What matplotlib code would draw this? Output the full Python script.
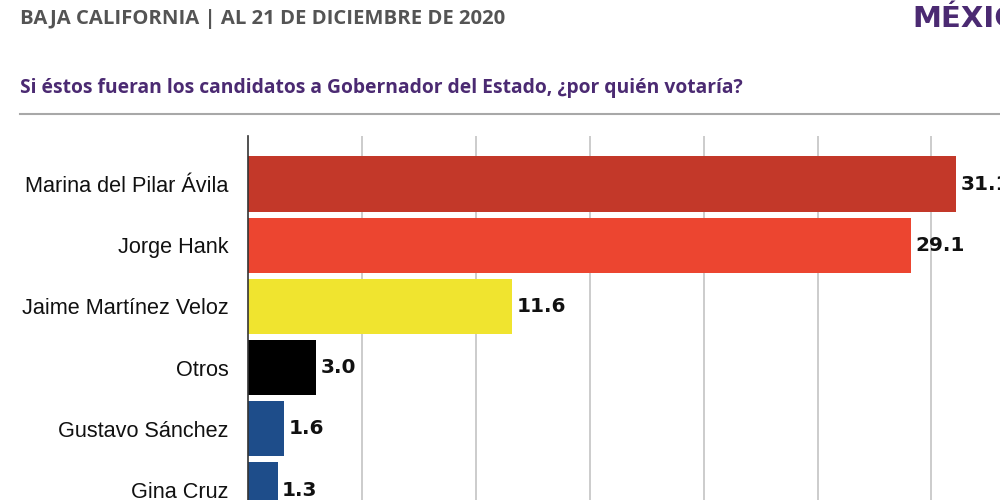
import matplotlib
matplotlib.use("Agg")
import matplotlib.pyplot as plt

categories = ["Marina del Pilar Ávila", "Jorge Hank", "Jaime Martínez Veloz",
              "Otros", "Gustavo Sánchez", "Gina Cruz"]
values = [31.1, 29.1, 11.6, 3.0, 1.6, 1.3]
value_labels = ["31.1", "29.1", "11.6", "3.0", "1.6", "1.3"]
colors = ["#C33829", "#EC4530", "#F0E42F", "#000000", "#1E4D8A", "#1E4D8A"]
title = "BAJA CALIFORNIA | AL 21 DE DICIEMBRE DE 2020"
subtitle = "Si éstos fueran los candidatos a Gobernador del Estado, ¿por quién votaría?"
logo = "MÉXICO"
xticks = [5, 10, 15, 20, 25, 30, 35]

W, H = 1000, 500
fig = plt.figure(figsize=(W / 100, H / 100), dpi=100)
fig.patch.set_facecolor("white")

def fx(px):
    return px / W

def fy(py):
    return 1 - py / H

fig.text(fx(20), fy(19), title, fontsize=14.6, fontweight="bold", color="#545454",
         family="Open Sans", va="center", ha="left")
fig.text(fx(20), fy(88), subtitle, fontsize=13.9, fontweight="bold", color="#4B2A72",
         family="Open Sans", va="center", ha="left")
fig.text(fx(912), fy(19), logo, fontsize=21, fontweight="bold", color="#4B2A72",
         family="DejaVu Sans", va="center", ha="left")
fig.add_artist(plt.Line2D([fx(20), 1.0], [fy(114), fy(114)], color="#A8A8A8", lw=1.5,
                          transform=fig.transFigure))

# axes geometry
x0_px = 248
px_per_unit = 22.78
xmax = 35
ax_w_px = xmax * px_per_unit
top_px = 136
pitch = 61.2
first_center = 184
ytop = -(first_center - top_px) / pitch
ybot = (H - first_center) / pitch
ax = fig.add_axes([fx(x0_px), 0, ax_w_px / W, (H - top_px) / H])
ypos = list(range(len(categories)))
ax.barh(ypos, values, height=0.9, color=colors, zorder=3)
ax.set_xlim(0, xmax)
ax.set_ylim(ybot, ytop)
ax.set_xticks(xticks)
ax.xaxis.grid(True, color="#C4C4C4", lw=1.2, zorder=0)
ax.tick_params(axis="x", length=0, labelbottom=False)
ax.tick_params(axis="y", length=0, pad=14)
ax.set_yticks(ypos)
ax.set_yticklabels(categories, fontsize=15.6, family="Liberation Sans", color="#111111")
for s in ["top", "right", "bottom"]:
    ax.spines[s].set_visible(False)
ax.spines["left"].set_color("#333333")
ax.spines["left"].set_linewidth(1.2)
ax.spines["left"].set_zorder(4)
for y, v, lab in zip(ypos, values, value_labels):
    ax.text(v + 0.2, y, lab, fontsize=14.5, fontweight="bold", family="DejaVu Sans",
            color="#111111", va="center", ha="left", clip_on=False)

fig.savefig("out.png", dpi=100)
